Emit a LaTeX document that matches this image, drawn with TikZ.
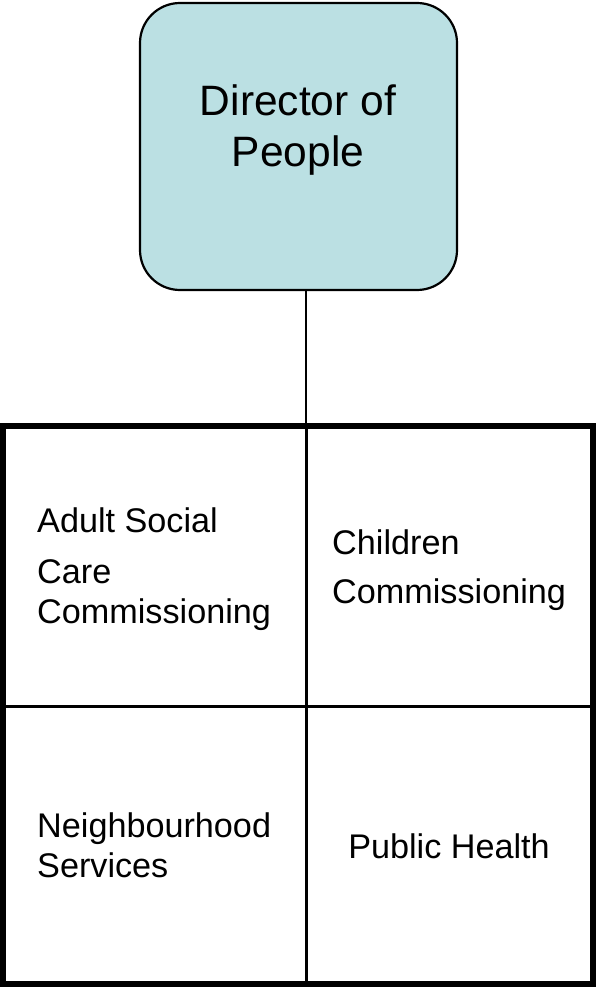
\documentclass[tikz,border=0pt]{standalone}
\usepackage{fontspec}
\setmainfont{Liberation Sans}
\definecolor{dirfill}{RGB}{187,224,227}
\tikzset{
  dirbox/.style={draw=black, line width=2.2pt, fill=dirfill, rounded corners=40pt},
  outerframe/.style={draw=black, line width=5.5pt},
  divider/.style={draw=black, line width=3pt},
  connector/.style={draw=black, line width=2pt},
  bigtext/.style={inner sep=0pt, font=\fontsize{42.5}{50}\selectfont},
  celltext/.style={inner sep=0pt, font=\fontsize{34.2}{40}\selectfont},
}
\begin{document}
\begin{tikzpicture}[x=1pt,y=-1pt]
\useasboundingbox (0,0) rectangle (596,987);
% director box
\path[dirbox] (140,3) rectangle (457,290);
\coordinate (dirbottom) at (306,290);
\node[bigtext, anchor=base] (dir1) at (298,116) {Director of};
\node[bigtext, anchor=base] (dir2) at (298,167) {People};
% grid
\coordinate (gridtop) at (306,426);
\path[connector] (dirbottom) -- (gridtop);
\path[outerframe] (3,426) rectangle (593,984);
\coordinate (vtop) at (306,426);
\coordinate (vbot) at (306,984);
\coordinate (hl) at (3,706);
\coordinate (hr) at (593,706);
\path[divider] (vtop) -- (vbot);
\path[divider] (hl) -- (hr);
% cell texts
\node[celltext, anchor=base west] (asc1) at (37,532) {Adult Social};
\node[celltext, anchor=base west] (asc2) at (37,583) {Care};
\node[celltext, anchor=base west] (asc3) at (37,623) {Commissioning};
\node[celltext, anchor=base west] (cc1) at (332,554) {Children};
\node[celltext, anchor=base west] (cc2) at (332,603) {Commissioning};
\node[celltext, anchor=base west] (ns1) at (37,837) {Neighbourhood};
\node[celltext, anchor=base west] (ns2) at (37,877) {Services};
\node[celltext, anchor=base] (ph) at (449,858) {Public Health};
\end{tikzpicture}
\end{document}
